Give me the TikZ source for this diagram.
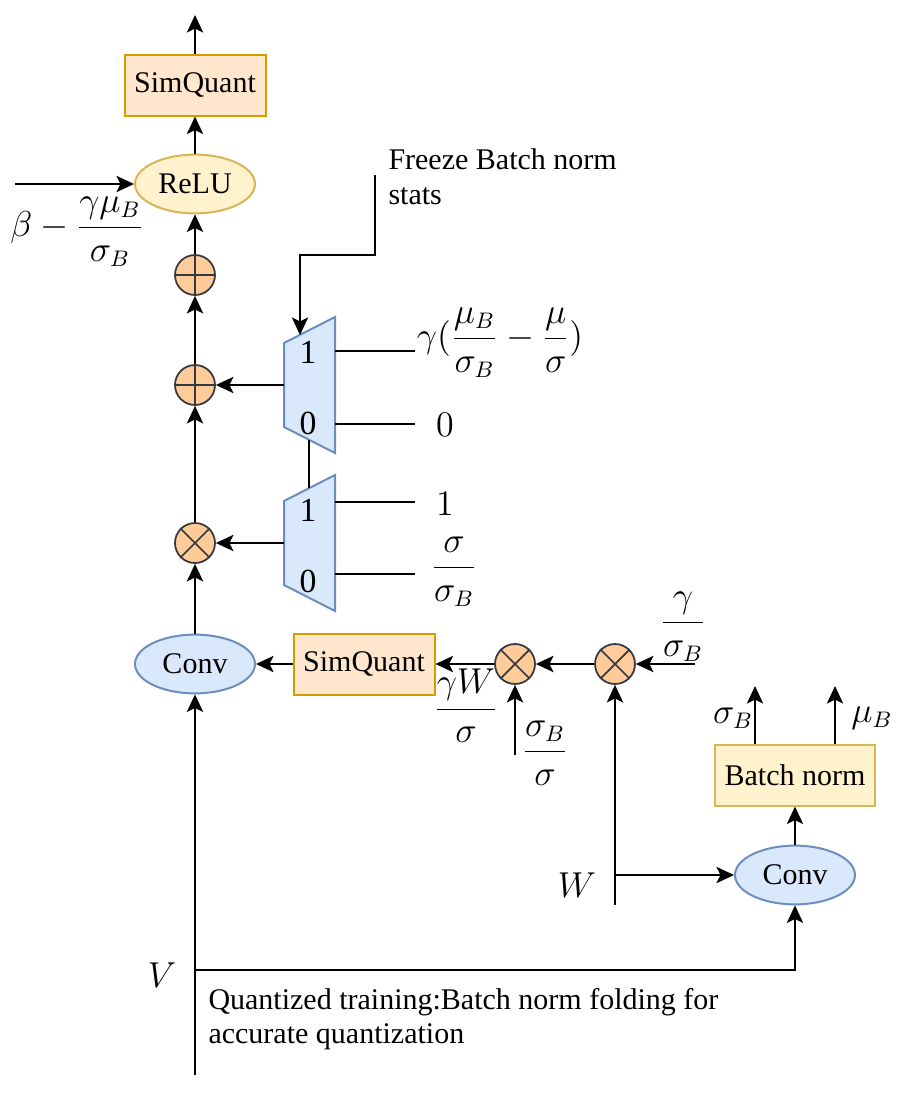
\documentclass[tikz,border=0pt]{standalone}
\usepackage{fontspec}
\setmainfont{Liberation Serif}
\usetikzlibrary{arrows.meta,shapes.geometric,calc,positioning}

\definecolor{qfill}{HTML}{FFE6CC}
\definecolor{qdraw}{HTML}{D79B00}
\definecolor{yfill}{HTML}{FFF2CC}
\definecolor{ydraw}{HTML}{D6B656}
\definecolor{bfill}{HTML}{DAE8FC}
\definecolor{bdraw}{HTML}{6C8EBF}
\definecolor{ofill}{HTML}{FFCC99}
\definecolor{odraw}{HTML}{36393D}

% multiplexer: name, left x, centre y
\newcommand{\muxshape}[3]{%
	\draw[muxline] (#2,#3-42) -- (#2+51,#3-68) -- (#2+51,#3+68) -- (#2,#3+42) -- cycle;
	\node[muxlbl] (#1-one) at (#2+24,#3-33) {1};
	\node[muxlbl] (#1-zero) at (#2+24,#3+38) {0};
	\coordinate (#1-out) at (#2,#3);
	\coordinate (#1-sel) at (#2+16,#3-50);
	\coordinate (#1-topc) at (#2+25,#3-55);
	\coordinate (#1-botc) at (#2+25,#3+55);
}

\begin{document}
\begin{tikzpicture}[x=0.4pt,y=-0.4pt,
		flow/.style={line width=0.8pt,-{Stealth[length=7pt,width=6.5pt,inset=1.6pt]}},
		wire/.style={line width=0.8pt},
		muxline/.style={draw=bdraw,fill=bfill,line width=0.8pt},
		muxlbl/.style={font=\fontsize{13.5}{15}\selectfont,inner sep=0pt},
		quant/.style={draw=qdraw,fill=qfill,line width=0.8pt,minimum width=56.4pt,minimum height=24.4pt,inner sep=0pt,font=\fontsize{12}{15}\selectfont},
		bnorm/.style={quant,draw=ydraw,fill=yfill,minimum width=64pt},
		relu/.style={ellipse,draw=ydraw,fill=yfill,line width=0.8pt,minimum width=48pt,minimum height=23.5pt,inner sep=0pt,font=\fontsize{12}{15}\selectfont},
		conv/.style={relu,draw=bdraw,fill=bfill},
		opnode/.style={circle,draw=odraw,fill=ofill,line width=0.7pt,minimum size=16pt,inner sep=0pt},
		opmark/.style={draw=odraw,line width=0.7pt},
		lbl/.style={font=\fontsize{13.5}{16}\selectfont,inner sep=0pt},
		note/.style={font=\fontsize{12}{14}\selectfont,align=left,inner sep=0pt}]
		
		\useasboundingbox (0,0) rectangle (898,1094);
		
		% Main column
		\node[quant] (sq1) at (195,85) {SimQuant};
		\node[relu] (relu) at (195,184) {ReLU};
		\node[opnode] (add1) at (195,275) {};
		\node[opnode] (add2) at (195,385) {};
		\node[opnode] (mul1) at (195,543) {};
		\node[conv] (conv1) at (195,664) {Conv};
		\coordinate (outp) at (195,15);
		
		\draw[flow] (sq1) -- (outp);
		\draw[flow] (relu) -- (sq1);
		\draw[flow] (add1) -- (relu);
		\draw[flow] (add2) -- (add1);
		\draw[flow] (mul1) -- (add2);
		\draw[flow] (conv1) -- (mul1);
		
		% Bias into ReLU
		\coordinate (bin) at (15,184);
		\draw[flow] (bin) -- (relu);
		\node[lbl] (bias) at (77,232) {$\displaystyle\beta-\frac{\gamma\mu_B}{\sigma_B}$};
		
		% Multiplexers
		\muxshape{m1}{284}{385}
		\muxshape{m2}{284}{543}
		\draw[flow] (m1-out) -- (add2);
		\draw[flow] (m2-out) -- (mul1);
		\draw[wire] (m1-botc) -- (m2-topc);
		
		\foreach \m/\y in {m1a/351,m1b/424,m2a/502,m2b/574} {
			\coordinate (\m) at (335,\y);
			\coordinate (\m-end) at (415,\y);
			\draw[wire] (\m) -- (\m-end);
		}
		
		\node[lbl] (gshift) at (500,343) {$\displaystyle\gamma(\frac{\mu_B}{\sigma_B}-\frac{\mu}{\sigma})$};
		\node[lbl] (zero) at (445,425) {$0$};
		\node[lbl] (one) at (445,504) {$1$};
		\node[lbl] (sratio) at (454,572) {$\displaystyle\frac{\sigma}{\sigma_B}$};
		
		% Freeze control
		\node[note,anchor=north west] (frz) at (388,148) {Freeze Batch norm\\stats};
		\coordinate (frzs) at (375,175);
		\draw[flow] (frzs) -- ++(0,80) -| (m1-sel);
		
		% Weight path
		\node[quant] (sq2) at (364,664) {SimQuant};
		\node[opnode] (mul2) at (515,664) {};
		\node[opnode] (mul3) at (615,664) {};
		\coordinate (gin) at (695,664);
		\draw[flow] (gin) -- (mul3);
		\draw[flow] (mul3) -- (mul2);
		\draw[flow] (mul2) -- (sq2);
		\draw[flow] (sq2) -- (conv1);
		
		\coordinate (sin) at (515,755);
		\draw[flow] (sin) -- (mul2);
		\coordinate (win) at (615,905);
		\draw[flow] (win) -- (mul3);
		
		\node[lbl] (gsig) at (683,627) {$\displaystyle\frac{\gamma}{\sigma_B}$};
		\node[lbl] (gw) at (466,706) {$\displaystyle\frac{\gamma W}{\sigma}$};
		\node[lbl] (sbs) at (545,753) {$\displaystyle\frac{\sigma_B}{\sigma}$};
		\node[lbl] (wlbl) at (577,885) {$W$};
		
		% Plus and cross marks
		\foreach \n in {add1,add2}
			\draw[opmark] (\n.north) -- (\n.south) (\n.west) -- (\n.east);
		\foreach \n in {mul1,mul2,mul3}
			\draw[opmark] (\n.45) -- (\n.225) (\n.135) -- (\n.315);
		
		% Batch norm branch
		\node[conv] (conv2) at (795,875) {Conv};
		\node[bnorm] (bn) at (795,775) {Batch norm};
		\coordinate (wsplit) at (615,875);
		\draw[flow] (wsplit) -- (conv2);
		\draw[flow] (conv2) -- (bn);
		\coordinate (bsig) at (755,686);
		\coordinate (bmu) at (835,686);
		\draw[flow] (bn.north -| bsig) -- (bsig);
		\draw[flow] (bn.north -| bmu) -- (bmu);
		\node[lbl] (sigb) at (733,718) {$\sigma_B$};
		\node[lbl] (mub) at (872,718) {$\mu_B$};
		
		% Input V
		\coordinate (vin) at (195,1075);
		\coordinate (vsplit) at (195,970);
		\draw[flow] (vin) -- (conv1);
		\draw[flow] (vsplit) -| (conv2);
		\node[lbl] (vlbl) at (162,975) {$V$};
		
		\node[note,anchor=north west,font=\fontsize{12}{13.5}\selectfont] (cap) at (208,988) {Quantized training:Batch norm folding for\\accurate quantization};
		
	\end{tikzpicture}
\end{document}
